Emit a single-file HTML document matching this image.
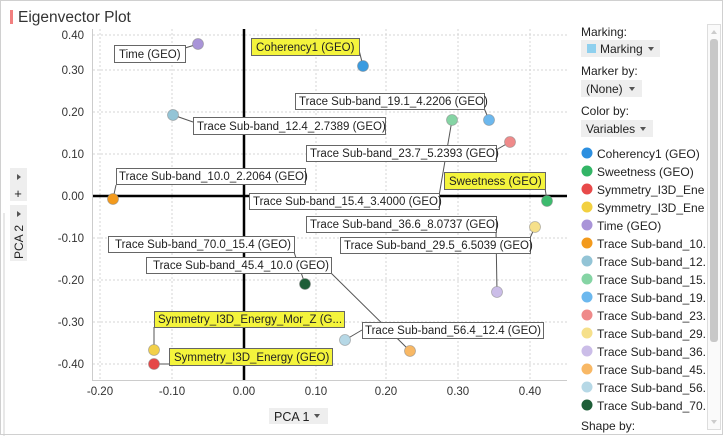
<!DOCTYPE html>
<html><head><meta charset="utf-8"><style>
body{margin:0;background:#fff;}
svg text{font-family:"Liberation Sans",Arial,sans-serif;}
</style></head><body>
<svg width="723" height="436" viewBox="0 0 723 436" xmlns="http://www.w3.org/2000/svg">
<defs><clipPath id="lg"><rect x="575" y="140" width="130" height="296"/></clipPath></defs>
<rect x="0" y="0" width="723" height="436" fill="#fff"/>
<rect x="0.5" y="0.5" width="722" height="434" fill="none" stroke="#d0d0d0"/>
<line x1="4" y1="213" x2="4" y2="436" stroke="#d0d0d0"/>
<rect x="10" y="10" width="3" height="14" fill="#f28080"/>
<text x="18" y="22" font-size="15.5" fill="#333">Eigenvector Plot</text>
<g stroke="#d4d4d4" stroke-dasharray="2,2" stroke-width="1">
<line x1="100" y1="29" x2="100" y2="380"/><line x1="172" y1="29" x2="172" y2="380"/>
<line x1="316" y1="29" x2="316" y2="380"/><line x1="386" y1="29" x2="386" y2="380"/>
<line x1="458" y1="29" x2="458" y2="380"/><line x1="530" y1="29" x2="530" y2="380"/>
<line x1="93" y1="35" x2="567" y2="35"/><line x1="93" y1="70" x2="567" y2="70"/>
<line x1="93" y1="112" x2="567" y2="112"/><line x1="93" y1="154" x2="567" y2="154"/>
<line x1="93" y1="238" x2="567" y2="238"/><line x1="93" y1="280" x2="567" y2="280"/>
<line x1="93" y1="322" x2="567" y2="322"/><line x1="93" y1="364" x2="567" y2="364"/>
</g>
<line x1="92.5" y1="29" x2="92.5" y2="380" stroke="#ccc"/>
<line x1="92" y1="380.5" x2="567" y2="380.5" stroke="#ccc"/>
<line x1="244" y1="29" x2="244" y2="380" stroke="#000" stroke-width="2.5"/>
<line x1="93" y1="196" x2="567" y2="196" stroke="#000" stroke-width="2.5"/>
<g font-size="11.5" fill="#333" text-anchor="end">
<text x="84" y="39">0.40</text><text x="84" y="74">0.30</text><text x="84" y="116">0.20</text>
<text x="84" y="158">0.10</text><text x="84" y="200">0.00</text><text x="84" y="242">-0.10</text>
<text x="84" y="284">-0.20</text><text x="84" y="326">-0.30</text><text x="84" y="368">-0.40</text>
</g>
<g font-size="11.5" fill="#333" text-anchor="middle">
<text x="100" y="395">-0.20</text><text x="172" y="395">-0.10</text><text x="244" y="395">0.00</text>
<text x="316" y="395">0.10</text><text x="386" y="395">0.20</text><text x="458" y="395">0.30</text><text x="530" y="395">0.40</text>
</g>
<rect x="269" y="408" width="59" height="16" fill="#eee"/>
<text x="274" y="421" font-size="12.5" fill="#222">PCA 1</text>
<path d="M314 414 l6 0 l-3 4z" fill="#555"/>
<rect x="10" y="168" width="17" height="33" fill="#eee"/>
<path d="M17 174 l4 3 l-4 3z" fill="#555"/>
<text x="18" y="198" font-size="13" text-anchor="middle" fill="#222">+</text>
<rect x="10" y="205" width="17" height="56" fill="#eee"/>
<path d="M17 211 l4 3 l-4 3z" fill="#555"/>
<text transform="translate(23,259) rotate(-90)" font-size="12" fill="#222">PCA 2</text>
<g stroke="#555" stroke-width="1" fill="none">
<line x1="185" y1="48" x2="198" y2="44"/>
<line x1="359" y1="50" x2="363" y2="66"/>
<line x1="193" y1="122" x2="173" y2="115"/>
<line x1="484" y1="108" x2="489" y2="120"/>
<line x1="439" y1="196" x2="452" y2="120"/>
<line x1="496" y1="150" x2="510" y2="142"/>
<line x1="116" y1="185" x2="113" y2="199"/>
<line x1="545" y1="188" x2="547" y2="201"/>
<line x1="496" y1="232" x2="497" y2="292"/>
<line x1="530" y1="238" x2="535" y2="227"/>
<line x1="294" y1="252" x2="305" y2="284"/>
<line x1="331" y1="273" x2="410" y2="351"/>
<line x1="362" y1="330" x2="345" y2="340"/>
<line x1="154" y1="327" x2="154" y2="350"/>
<line x1="169" y1="364" x2="154" y2="364"/>
</g>
<g font-size="11.5" fill="#222" stroke-width="1">
<rect x="114.5" y="45.5" width="71" height="17" fill="#fff" stroke="#666"/><text x="119" y="58">Time (GEO)</text>
<rect x="251.5" y="38.5" width="108" height="17" fill="#f4f43c" stroke="#666"/><text x="256" y="51">Coherency1 (GEO)</text>
<rect x="295.5" y="93.5" width="189" height="16" fill="#fff" stroke="#666"/><text x="299" y="105">Trace Sub-band_19.1_4.2206 (GEO)</text>
<rect x="193.5" y="117.5" width="192" height="17" fill="#fff" stroke="#666"/><text x="197" y="130">Trace Sub-band_12.4_2.7389 (GEO)</text>
<rect x="306.5" y="145.5" width="190" height="16" fill="#fff" stroke="#666"/><text x="310" y="157">Trace Sub-band_23.7_5.2393 (GEO)</text>
<rect x="116.5" y="168.5" width="189" height="16" fill="#fff" stroke="#666"/><text x="119" y="180">Trace Sub-band_10.0_2.2064 (GEO)</text>
<rect x="444.5" y="172.5" width="101" height="17" fill="#f4f43c" stroke="#666"/><text x="449" y="185">Sweetness (GEO)</text>
<rect x="249.5" y="193.5" width="190" height="16" fill="#fff" stroke="#666"/><text x="253" y="205">Trace Sub-band_15.4_3.4000 (GEO)</text>
<rect x="306.5" y="216.5" width="190" height="16" fill="#fff" stroke="#666"/><text x="310" y="228">Trace Sub-band_36.6_8.0737 (GEO)</text>
<rect x="340.5" y="237.5" width="190" height="16" fill="#fff" stroke="#666"/><text x="344" y="249">Trace Sub-band_29.5_6.5039 (GEO)</text>
<rect x="108.5" y="236.5" width="186" height="16" fill="#fff" stroke="#666"/><text x="115" y="248">Trace Sub-band_70.0_15.4 (GEO)</text>
<rect x="146.5" y="257.5" width="185" height="16" fill="#fff" stroke="#666"/><text x="153" y="269">Trace Sub-band_45.4_10.0 (GEO)</text>
<rect x="154.5" y="311.5" width="190" height="16" fill="#f4f43c" stroke="#666"/><text x="158" y="323">Symmetry_I3D_Energy_Mor_Z (G...</text>
<rect x="169.5" y="348.5" width="163" height="17" fill="#f4f43c" stroke="#666"/><text x="174" y="361">Symmetry_I3D_Energy (GEO)</text>
<rect x="362.5" y="322.5" width="181" height="16" fill="#fff" stroke="#666"/><text x="365" y="334">Trace Sub-band_56.4_12.4 (GEO)</text>
</g>
<g stroke="#888" stroke-width="0.8" stroke-opacity="0.6">
<circle cx="198" cy="44" r="5.5" fill="#a994d8"/>
<circle cx="363" cy="66" r="5.5" fill="#3a9be0"/>
<circle cx="173" cy="115" r="5.5" fill="#93c4d6"/>
<circle cx="489" cy="120" r="5.5" fill="#6cb8ee"/>
<circle cx="452" cy="120" r="5.5" fill="#85d4a4"/>
<circle cx="510" cy="142" r="5.5" fill="#ef8a8a"/>
<circle cx="113" cy="199" r="5.5" fill="#f39a1c"/>
<circle cx="547" cy="201" r="5.5" fill="#3dbb6e"/>
<circle cx="535" cy="227" r="5.5" fill="#f6e08a"/>
<circle cx="497" cy="292" r="5.5" fill="#cbbde8"/>
<circle cx="305" cy="284" r="5.5" fill="#1e5e38"/>
<circle cx="345" cy="340" r="5.5" fill="#b6d8e6"/>
<circle cx="410" cy="351" r="5.5" fill="#f8b865"/>
<circle cx="154" cy="350" r="5.5" fill="#f2d04a"/>
<circle cx="154" cy="364" r="5.5" fill="#e54848"/>
</g>
<g font-size="12" fill="#222">
<text x="581" y="36">Marking:</text>
<rect x="581" y="40" width="79" height="17" fill="#eee"/>
<rect x="587" y="44" width="9" height="9" fill="#8fd0ee"/>
<text x="600" y="53">Marking</text><path d="M648 47 l6 0 l-3 4z" fill="#555"/>
<text x="581" y="75">Marker by:</text>
<rect x="581" y="80" width="61" height="17" fill="#eee"/>
<text x="586" y="93">(None)</text><path d="M629 87 l6 0 l-3 4z" fill="#555"/>
<text x="581" y="115">Color by:</text>
<rect x="581" y="120" width="72" height="17" fill="#eee"/>
<text x="586" y="133">Variables</text><path d="M640 127 l6 0 l-3 4z" fill="#555"/>
</g>
<g font-size="12" fill="#222" clip-path="url(#lg)">
<circle cx="587" cy="153" r="5.5" fill="#2c8fe0"/><text x="597" y="158">Coherency1 (GEO)</text>
<circle cx="587" cy="171" r="5.5" fill="#33b566"/><text x="597" y="176">Sweetness (GEO)</text>
<circle cx="587" cy="189" r="5.5" fill="#e84a4a"/><text x="597" y="194">Symmetry_I3D_Ener...</text>
<circle cx="587" cy="207" r="5.5" fill="#f2d040"/><text x="597" y="212">Symmetry_I3D_Ener...</text>
<circle cx="587" cy="225" r="5.5" fill="#a994d8"/><text x="597" y="230">Time (GEO)</text>
<circle cx="587" cy="243" r="5.5" fill="#f39a1c"/><text x="597" y="248">Trace Sub-band_10....</text>
<circle cx="587" cy="261" r="5.5" fill="#93c4d6"/><text x="597" y="266">Trace Sub-band_12....</text>
<circle cx="587" cy="279" r="5.5" fill="#85d4a4"/><text x="597" y="284">Trace Sub-band_15....</text>
<circle cx="587" cy="297" r="5.5" fill="#6cb8ee"/><text x="597" y="302">Trace Sub-band_19....</text>
<circle cx="587" cy="315" r="5.5" fill="#ef8a8a"/><text x="597" y="320">Trace Sub-band_23....</text>
<circle cx="587" cy="333" r="5.5" fill="#f6e08a"/><text x="597" y="338">Trace Sub-band_29....</text>
<circle cx="587" cy="351" r="5.5" fill="#cbbde8"/><text x="597" y="356">Trace Sub-band_36....</text>
<circle cx="587" cy="369" r="5.5" fill="#f8b865"/><text x="597" y="374">Trace Sub-band_45....</text>
<circle cx="587" cy="387" r="5.5" fill="#b6d8e6"/><text x="597" y="392">Trace Sub-band_56....</text>
<circle cx="587" cy="405" r="5.5" fill="#1e5e38"/><text x="597" y="410">Trace Sub-band_70....</text>
<text x="581" y="430">Shape by:</text>
</g>
<rect x="707.5" y="24.5" width="13" height="405" fill="#fafafa" stroke="#ddd"/>
<rect x="710" y="39" width="8" height="303" rx="3" fill="#c8c8c8"/>
<path d="M711 34 l3 -4 l3 4z" fill="#ccc"/><path d="M711 420 l3 4 l3 -4z" fill="#ccc"/>
</svg>
</body></html>
